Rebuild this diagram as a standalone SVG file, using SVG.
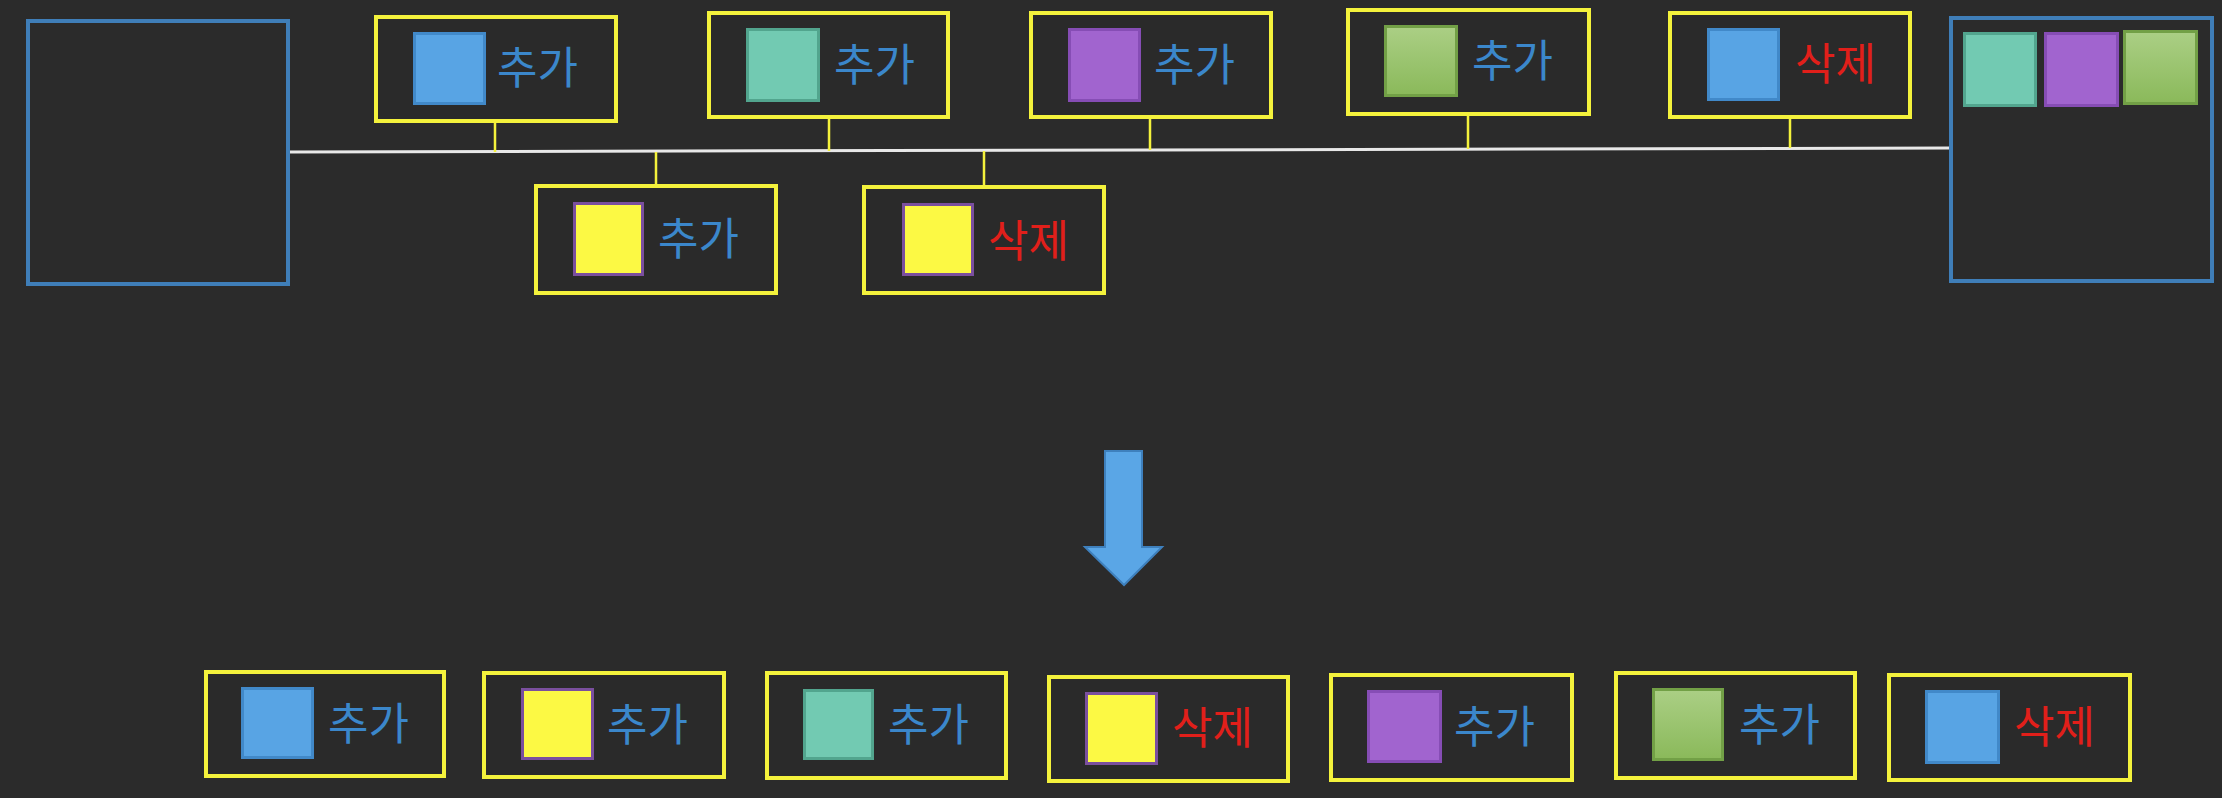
<svg xmlns="http://www.w3.org/2000/svg" width="2222" height="798" viewBox="0 0 2222 798">
<defs>
<linearGradient id="gGreen" x1="0" y1="0" x2="0" y2="1"><stop offset="0" stop-color="#abcf85"/><stop offset="1" stop-color="#8ab95a"/></linearGradient>
<style>
.bg{fill:#2b2b2b}
.frame{fill:none;stroke:#3f7eb8;stroke-width:4}
.node{fill:#2a2a2a;stroke:#f4f23c;stroke-width:4}
.conn{stroke:#f4f23c;stroke-width:2.5;fill:none}
.main{stroke:#e8e8e8;stroke-width:3;fill:none}
.sq{stroke-width:3}
.blue{fill:#58a4e4;stroke:#4189c9}
.teal{fill:#72cab2;stroke:#52a58e}
.purple{fill:#a164cf;stroke:#864db5}
.green{fill:url(#gGreen);stroke:#72a046}
.yellow{fill:#fcf944;stroke:#7a4f9e}
text{font-family:"Noto Sans CJK KR","Noto Sans",sans-serif;font-size:44px}
.add{fill:#3b87cb}
.del{fill:#e11f1a}
.arrow{fill:#5aa6e6;stroke:#3e80bd;stroke-width:2}
</style>
</defs>
<rect class="bg" x="0" y="0" width="2222" height="798"/>

<g id="connectors">
<line class="main" x1="288" y1="152" x2="1951" y2="148"/>
<line class="conn" x1="495" y1="121" x2="495" y2="152"/>
<line class="conn" x1="829" y1="117" x2="829" y2="151"/>
<line class="conn" x1="1150" y1="117" x2="1150" y2="150"/>
<line class="conn" x1="1468" y1="114" x2="1468" y2="149"/>
<line class="conn" x1="1790" y1="117" x2="1790" y2="148"/>
<line class="conn" x1="656" y1="152" x2="656" y2="186"/>
<line class="conn" x1="984" y1="151" x2="984" y2="187"/>
</g>

<g id="left-box"><rect class="frame" x="28" y="21" width="260" height="263"/></g>

<g id="right-box">
<rect class="frame" x="1951" y="18" width="261" height="263"/>
<rect class="sq teal" x="1964.5" y="33.5" width="71" height="72"/>
<rect class="sq purple" x="2045.5" y="33.5" width="72" height="72"/>
<rect class="sq green" x="2124.5" y="31.5" width="72" height="72"/>
</g>

<g id="t1"><rect class="node" x="376" y="17" width="240" height="104"/><rect class="sq blue" x="414.5" y="33.5" width="70" height="70"/><text class="add" x="497" y="84">추가</text></g>
<g id="t2"><rect class="node" x="709" y="13" width="239" height="104"/><rect class="sq teal" x="747.5" y="29.5" width="71" height="71"/><text class="add" x="834" y="81">추가</text></g>
<g id="t3"><rect class="node" x="1031" y="13" width="240" height="104"/><rect class="sq purple" x="1069.5" y="29.5" width="70" height="71"/><text class="add" x="1154" y="81">추가</text></g>
<g id="t4"><rect class="node" x="1348" y="10" width="241" height="104"/><rect class="sq green" x="1385.5" y="26.5" width="71" height="69"/><text class="add" x="1472" y="77">추가</text></g>
<g id="t5"><rect class="node" x="1670" y="13" width="240" height="104"/><rect class="sq blue" x="1708.5" y="29.5" width="70" height="70"/><text class="del" x="1795" y="80">삭제</text></g>
<g id="t6"><rect class="node" x="536" y="186" width="240" height="107"/><rect class="sq yellow" x="574.5" y="203.5" width="68" height="71"/><text class="add" x="658" y="255">추가</text></g>
<g id="t7"><rect class="node" x="864" y="187" width="240" height="106"/><rect class="sq yellow" x="903.5" y="204.5" width="69" height="70"/><text class="del" x="988" y="257">삭제</text></g>

<g id="arrow"><polygon class="arrow" points="1105,451 1142,451 1142,547 1162,547 1124,585 1085,547 1105,547"/></g>

<g id="b1"><rect class="node" x="206" y="672" width="238" height="104"/><rect class="sq blue" x="242.5" y="688.5" width="70" height="69"/><text class="add" x="328" y="740">추가</text></g>
<g id="b2"><rect class="node" x="484" y="673" width="240" height="104"/><rect class="sq yellow" x="522.5" y="689.5" width="70" height="69"/><text class="add" x="607" y="741">추가</text></g>
<g id="b3"><rect class="node" x="767" y="673" width="239" height="105"/><rect class="sq teal" x="804.5" y="690.5" width="68" height="68"/><text class="add" x="888" y="741">추가</text></g>
<g id="b4"><rect class="node" x="1049" y="677" width="239" height="104"/><rect class="sq yellow" x="1086.5" y="693.5" width="70" height="70"/><text class="del" x="1172" y="744">삭제</text></g>
<g id="b5"><rect class="node" x="1331" y="675" width="241" height="105"/><rect class="sq purple" x="1368.5" y="691.5" width="72" height="70"/><text class="add" x="1454" y="743">추가</text></g>
<g id="b6"><rect class="node" x="1616" y="673" width="239" height="105"/><rect class="sq green" x="1653.5" y="689.5" width="69" height="70"/><text class="add" x="1739" y="741">추가</text></g>
<g id="b7"><rect class="node" x="1889" y="675" width="241" height="105"/><rect class="sq blue" x="1926.5" y="691.5" width="72" height="71"/><text class="del" x="2014" y="743">삭제</text></g>
</svg>
